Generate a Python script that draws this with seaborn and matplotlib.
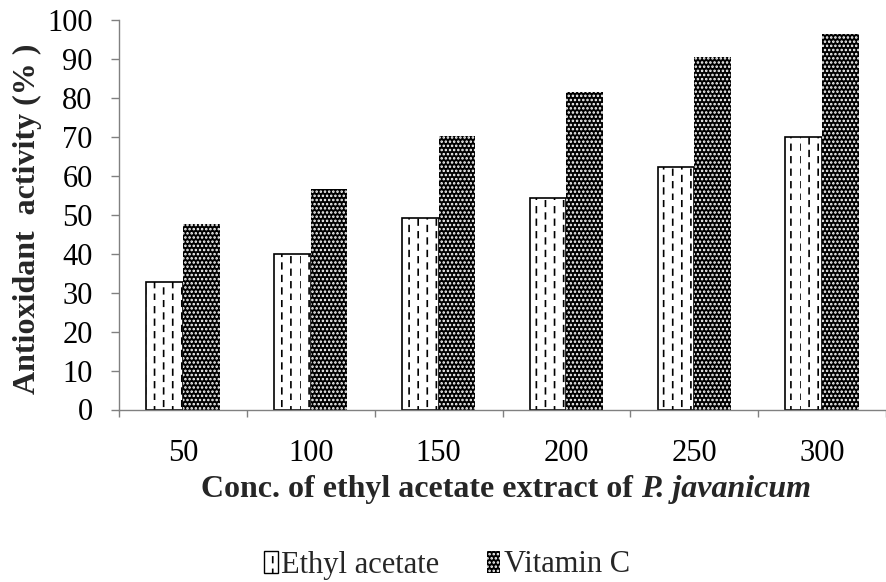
import numpy as np
import pandas as pd
import matplotlib
matplotlib.use("Agg")
import matplotlib.pyplot as plt
import matplotlib.hatch as mhatch
from matplotlib.path import Path
from matplotlib.patches import Patch
import seaborn as sns

# ---------------- data ----------------
concentrations = ["50", "100", "150", "200", "250", "300"]
ethyl_acetate = [32.8, 40.0, 49.0, 54.2, 62.3, 70.0]
vitamin_c = [47.6, 56.6, 70.2, 81.3, 90.4, 96.2]
series_names = ["Ethyl acetate", "Vitamin C"]
y_ticks = list(range(0, 101, 10))
x_label_main = "Conc. of ethyl acetate extract of "
x_label_italic = "P. javanicum"
y_label = "Antioxidant  activity (% )"


# dashed vertical hatch (replaces the solid '|' hatch)
class DashedVerticalHatch(mhatch.HatchPatternBase):
    def __init__(self, hatch, density):
        n = hatch.count("|")
        self.num_lines = int(n * density * 1.85)
        self.num_dashes = int(n * density * 1.35)
        self.num_vertices = self.num_lines * self.num_dashes * 2

    def set_vertices_and_codes(self, vertices, codes):
        xs = np.linspace(0.0, 1.0, self.num_lines, endpoint=False)
        step = 1.0 / self.num_dashes
        k = 0
        for i, x in enumerate(xs):
            off = (i % 2) * step / 2
            for j in range(self.num_dashes):
                y0 = j * step + off
                vertices[k] = (x, y0)
                vertices[k + 1] = (x, y0 + step * 0.45)
                codes[k] = Path.MOVETO
                codes[k + 1] = Path.LINETO
                k += 2


mhatch._hatch_types = [DashedVerticalHatch if t is mhatch.VerticalHatch else t
                       for t in mhatch._hatch_types]

sns.set_theme(style="ticks")
plt.rcParams["font.family"] = ["Liberation Serif", "DejaVu Serif"]
plt.rcParams["hatch.linewidth"] = 1.2

df = pd.DataFrame({
    "conc": concentrations * 2,
    "activity": ethyl_acetate + vitamin_c,
    "series": [series_names[0]] * len(concentrations) + [series_names[1]] * len(concentrations),
})

W, H = 886, 582
fig = plt.figure(figsize=(W / 100, H / 100), dpi=100)
ax = fig.add_axes([119 / W, 1 - 409.5 / H, 767 / W, 390 / H])

sns.barplot(data=df, x="conc", y="activity", hue="series", order=concentrations,
            hue_order=series_names, palette=["white", "black"], width=0.573,
            saturation=1, errorbar=None, legend=False, ax=ax)

for p in ax.containers[0]:
    p.set_facecolor("white")
    p.set_edgecolor("black")
    p.set_linewidth(1.2)
    p.set_hatch("|")
for p in ax.containers[1]:
    p.set_facecolor("black")
    p.set_edgecolor("white")
    p.set_linewidth(0)
    p.set_hatch("....")

ax.set_xlim(-0.5, -0.5 + 767 / 129.2)
ax.set_ylim(0, 100)
ax.set_yticks(y_ticks)
ax.set_xlabel("")
ax.set_ylabel("")
ax.set_xticks(np.arange(-0.5, len(concentrations), 1.0), minor=True)
ax.tick_params(axis="x", which="major", length=0, pad=21, labelsize=22, colors="black")
ax.tick_params(axis="x", which="minor", length=5, width=1, color="#808080", direction="out")
ax.tick_params(axis="y", length=6, width=1, color="#808080", labelsize=22, pad=13,
               direction="out", labelcolor="black")
sns.despine(ax=ax)
for s in ["left", "bottom"]:
    ax.spines[s].set_color("#808080")
    ax.spines[s].set_linewidth(1)

# y label
fig.text(27 / W, 1 - 219 / H, y_label, rotation=90, fontweight="bold", fontsize=23,
         ha="center", va="center")

# x label: bold + bold italic pieces, centred together
renderer = fig.canvas.get_renderer()
ylab = 1 - 490 / H
t1 = fig.text(0, ylab, x_label_main, fontweight="bold", fontsize=23, ha="left", va="center")
t2 = fig.text(0, ylab, x_label_italic, fontweight="bold", fontstyle="italic",
              fontsize=23, ha="left", va="center")
w1 = t1.get_window_extent(renderer).width
w2 = t2.get_window_extent(renderer).width
cx = 506
start = cx - (w1 + w2) / 2
t1.set_x(start / W)
t2.set_x((start + w1) / W)

# legend
handles = [
    Patch(facecolor="white", edgecolor="black", hatch="|", linewidth=1.0),
    Patch(facecolor="black", edgecolor="white", hatch="....", linewidth=0),
]
fig.legend(handles, series_names, loc="center", bbox_to_anchor=(447 / W, 1 - 565 / H),
           ncol=2, frameon=False, fontsize=22, handlelength=0.45, handleheight=0.7,
           handletextpad=0.12, columnspacing=1.55, borderaxespad=0, borderpad=0)

fig.savefig("out.png", dpi=100)
